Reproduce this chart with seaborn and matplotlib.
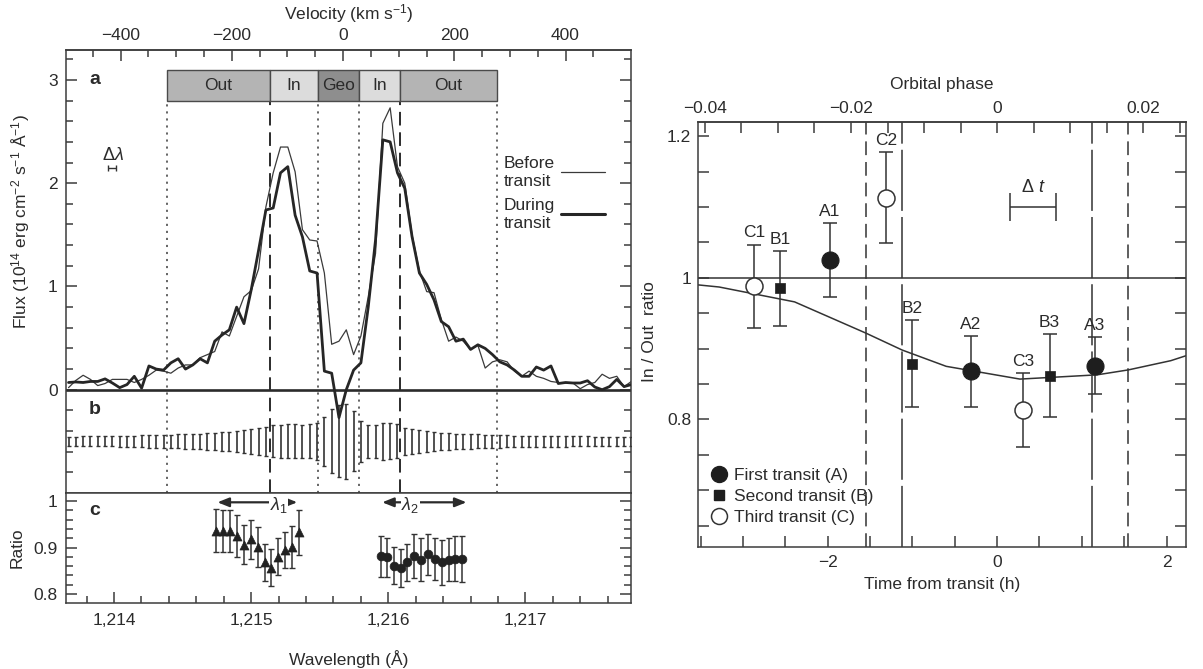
import numpy as np
import pandas as pd
import matplotlib
matplotlib.use("Agg")
import matplotlib.pyplot as plt
import seaborn as sns
from matplotlib.ticker import FixedLocator, MultipleLocator, FuncFormatter
from matplotlib.lines import Line2D

# ---------------- data: left panel (a, b) ----------------
wl_start = 1213.668          # first spectral bin (Angstrom)
wl_step = 0.0533             # bin width (Angstrom)

flux_before = [0.02, 0.09, 0.14, 0.10, 0.04, 0.06, 0.10, 0.10, 0.10, 0.07,
               0.10, 0.14, 0.19, 0.18, 0.16, 0.21, 0.24, 0.24, 0.31, 0.34,
               0.37, 0.56, 0.52, 0.71, 0.90, 0.96, 1.17, 1.77, 2.10, 2.35,
               2.35, 2.11, 1.55, 1.45, 1.44, 1.13, 0.44, 0.47, 0.58, 0.34,
               0.52, 0.90, 1.32, 2.58, 2.73, 2.16, 2.00, 1.50, 1.15, 0.95,
               0.94, 0.68, 0.47, 0.51, 0.47, 0.39, 0.43, 0.21, 0.27, 0.29,
               0.27, 0.18, 0.13, 0.18, 0.13, 0.11, 0.08, 0.07, 0.065, 0.065,
               0.01, 0.05, 0.07, 0.15, 0.11, 0.13, 0.03, 0.08]

flux_during = [0.07, 0.075, 0.07, 0.08, 0.08, 0.105, 0.065, 0.02, 0.05, 0.13,
               0.015, 0.23, 0.20, 0.19, 0.26, 0.30, 0.20, 0.24, 0.30, 0.26,
               0.47, 0.53, 0.58, 0.80, 0.64, 0.97, 1.35, 1.74, 1.76, 2.10,
               2.16, 1.69, 1.48, 1.15, 1.13, 0.18, 0.16, -0.27, 0.0, 0.19,
               0.26, 0.80, 1.45, 2.42, 2.40, 2.10, 1.95, 1.48, 1.13, 1.02,
               0.87, 0.66, 0.61, 0.47, 0.49, 0.39, 0.435, 0.40, 0.34, 0.27,
               0.24, 0.19, 0.13, 0.13, 0.22, 0.19, 0.23, 0.06, 0.07, 0.065,
               0.065, 0.087, 0.026, 0.0, 0.03, 0.10, 0.03, 0.05]

flux_err = [0.045, 0.046, 0.047, 0.047, 0.048, 0.048, 0.049, 0.05, 0.052, 0.055,
            0.058, 0.06, 0.062, 0.064, 0.066, 0.068, 0.07, 0.073, 0.076, 0.08,
            0.085, 0.09, 0.095, 0.10, 0.11, 0.12, 0.13, 0.14, 0.155, 0.16,
            0.165, 0.165, 0.16, 0.165, 0.18, 0.235, 0.31, 0.35, 0.36, 0.29,
            0.20, 0.16, 0.16, 0.177, 0.175, 0.165, 0.13, 0.12, 0.108, 0.10,
            0.092, 0.085, 0.08, 0.075, 0.072, 0.07, 0.067, 0.065, 0.063, 0.06,
            0.058, 0.056, 0.055, 0.054, 0.053, 0.052, 0.051, 0.05, 0.05, 0.049,
            0.048, 0.047, 0.046, 0.045, 0.045, 0.044, 0.044, 0.043]

region_edges = [1214.384, 1215.134, 1215.486, 1215.789, 1216.086, 1216.791]
region_names = ["Out", "In", "Geo", "In", "Out"]
edge_kind = ["dotted", "dashed", "dotted", "dotted", "dashed", "dotted"]

velocity_ticks = [-400, -200, 0, 200, 400]
wavelength_ticks = [1214, 1215, 1216, 1217]

# ---------------- data: panel c ----------------
lam1 = [1214.746, 1214.797, 1214.848, 1214.898, 1214.947, 1214.997, 1215.048,
        1215.099, 1215.147, 1215.198, 1215.246, 1215.297, 1215.348]
ratio1 = [0.936, 0.936, 0.936, 0.924, 0.906, 0.918, 0.902, 0.868, 0.857,
          0.880, 0.895, 0.902, 0.933]
err1 = [0.046, 0.045, 0.045, 0.045, 0.042, 0.042, 0.043, 0.040, 0.039,
        0.040, 0.039, 0.045, 0.048]
lam2 = [1215.944, 1215.992, 1216.040, 1216.091, 1216.139, 1216.190, 1216.238,
        1216.289, 1216.340, 1216.388, 1216.439, 1216.489, 1216.540]
ratio2 = [0.881, 0.879, 0.861, 0.856, 0.868, 0.882, 0.874, 0.886, 0.876,
          0.868, 0.874, 0.876, 0.876]
err2 = [0.044, 0.042, 0.040, 0.040, 0.040, 0.047, 0.046, 0.044, 0.045,
        0.048, 0.046, 0.048, 0.049]
lam1_range = [1214.754, 1215.336]
lam2_range = [1215.955, 1216.570]

# ---------------- data: right panel ----------------
pt_labels = ["C1", "B1", "A1", "C2", "B2", "A2", "C3", "B3", "A3"]
pt_group = ["C", "B", "A", "C", "B", "A", "C", "B", "A"]
pt_time = [-2.87, -2.56, -1.975, -1.31, -1.00, -0.31, 0.31, 0.62, 1.15]
pt_ratio = [0.988, 0.985, 1.025, 1.113, 0.879, 0.868, 0.813, 0.862, 0.876]
pt_err = [0.059, 0.053, 0.052, 0.064, 0.061, 0.050, 0.052, 0.058, 0.040]

model_time = [-3.53, -3.28, -2.39, -1.55, -1.12, -0.60, 0.27, 1.18, 1.55, 2.05, 2.23]
model_ratio = [0.990, 0.987, 0.966, 0.922, 0.898, 0.875, 0.857, 0.863, 0.870, 0.883, 0.890]

contact_outer = [-1.55, 1.55]
contact_inner = [-1.12, 1.12]
dt_range = [0.15, 0.70]
dt_level = 1.10

time_ticks = [-2, 0, 2]
phase_ticks = [-0.04, -0.02, 0, 0.02]

group_names = {"A": "First transit (A)", "B": "Second transit (B)", "C": "Third transit (C)"}

LYA = 1215.67
C_KMS = 299792.458
PERIOD_H = 86.2

# ---------------- style ----------------
sns.set_theme(style="ticks")
INK = "#2b2b2b"
plt.rcParams.update({
    "font.size": 12.5,
    "text.color": INK,
    "axes.labelcolor": INK,
    "axes.edgecolor": "#3c3c3c",
    "axes.linewidth": 1.1,
    "xtick.color": "#3c3c3c",
    "ytick.color": "#3c3c3c",
    "xtick.labelcolor": INK,
    "ytick.labelcolor": INK,
    "xtick.labelsize": 12.5,
    "ytick.labelsize": 12.5,
    "axes.labelsize": 12.5,
    "mathtext.fontset": "custom",
    "mathtext.rm": "Liberation Sans",
    "mathtext.it": "Liberation Sans:italic",
    "mathtext.bf": "Liberation Sans:bold",
    "mathtext.default": "regular",
})
plt.rcParams["font.family"] = ["Liberation Sans", "DejaVu Sans"]

fig = plt.figure(figsize=(12.03, 6.69), dpi=100)
ax = fig.add_axes([0.0549, 0.2631, 0.4697, 0.6622])
axc = fig.add_axes([0.0549, 0.0987, 0.4697, 0.1644])
axr = fig.add_axes([0.5802, 0.1824, 0.4057, 0.6353])


def tick_style(a, **kw):
    a.tick_params(which="both", direction="in", width=1.1, **kw)
    a.tick_params(which="major", length=8, pad=6)
    a.tick_params(which="minor", length=5)


minus = lambda s: s.replace("-", "\u2212")

# ================= panel a + b =================
wavelength = np.round(wl_start + wl_step * np.arange(len(flux_before)), 4)
spec = pd.DataFrame({"wavelength": wavelength, "before": flux_before,
                     "during": flux_during, "err": flux_err})

b_center = -0.5
box_bottom, box_top = 2.8, 3.1
ax.set_xlim(1213.65, 1217.77)
ax.set_ylim(-1.0, 3.29)

# region box
widths = np.diff(region_edges)
box_colors = {"Out": "#b4b4b4", "In": "#dcdcdc", "Geo": "#8e8e8e"}
ax.bar(region_edges[:-1], box_top - box_bottom, width=widths, bottom=box_bottom,
       align="edge", color=[box_colors[n] for n in region_names],
       edgecolor="#4a4a4a", linewidth=1.0, zorder=3)
for x0, w, name in zip(region_edges[:-1], widths, region_names):
    ax.text(x0 + w / 2, (box_bottom + box_top) / 2, name, ha="center",
            va="center", fontsize=12.5, zorder=4)

# region boundary lines
for x, kind in zip(region_edges, edge_kind):
    if kind == "dashed":
        ax.vlines(x, -1.0, box_bottom, colors="#2b2b2b", lw=1.4,
                  linestyles=[(0, (7, 3.5))], zorder=1)
    else:
        ax.vlines(x, -1.0, box_bottom, colors="#3a3a3a", lw=1.1,
                  linestyles=[(0, (1.4, 3.2))], zorder=1)

# panel b error bars
ax.errorbar(spec["wavelength"], np.full(len(spec), b_center), yerr=spec["err"],
            fmt="none", ecolor="#333333", elinewidth=1.2, capsize=1.4,
            capthick=1.0, zorder=2)

ax.axhline(0, color="#2b2b2b", lw=1.9, zorder=2)

sns.lineplot(data=spec, x="wavelength", y="before", ax=ax, color="#3a3a3a",
             lw=0.9, zorder=5)
sns.lineplot(data=spec, x="wavelength", y="during", ax=ax, color="#262626",
             lw=2.0, zorder=6)

ax.text(1213.86, 3.0, "a", fontsize=14, fontweight="bold", va="center", ha="center")
ax.text(1213.86, -0.19, "b", fontsize=14, fontweight="bold", va="center", ha="center")
ax.text(1213.99, 2.27, r"$\Delta\mathit{\lambda}$", fontsize=13, ha="center", va="center")
ax.errorbar([1213.985], [2.15], xerr=[wl_step / 2], fmt="none", ecolor="#333333",
            elinewidth=1.0, capsize=2.5, capthick=1.0)

ax.legend(handles=[Line2D([], [], color="#3a3a3a", lw=0.9),
                   Line2D([], [], color="#262626", lw=2.2)],
          labels=["Before\ntransit", "During\ntransit"],
          markerfirst=False, frameon=False, loc="upper left",
          bbox_to_anchor=(0.775, 0.76), borderaxespad=0, borderpad=0,
          handlelength=2.5, handletextpad=0.35, labelspacing=0.55,
          fontsize=12.5)

ax.set_xlabel("")
ax.set_ylabel("Flux (10$^{14}$ erg cm$^{-2}$ s$^{-1}$ Å$^{-1}$)")
ax.yaxis.set_label_coords(-0.060, 0.613)
ax.yaxis.set_major_locator(FixedLocator([0, 1, 2, 3]))
ax.yaxis.set_minor_locator(FixedLocator(np.round(np.arange(-0.8, 3.25, 0.2), 2)))
ax.yaxis.set_major_formatter(FuncFormatter(lambda v, p: f"{v:g}"))
tick_style(ax, left=True, right=True, bottom=False, top=False,
           labelbottom=False)

w2v = lambda w: (w - LYA) / LYA * C_KMS
v2w = lambda v: LYA + v / C_KMS * LYA
sec = ax.secondary_xaxis("top", functions=(w2v, v2w))
sec.xaxis.set_major_locator(FixedLocator(velocity_ticks))
sec.xaxis.set_minor_locator(FixedLocator(list(range(-450, 451, 50))))
sec.xaxis.set_major_formatter(FuncFormatter(lambda v, p: minus(f"{v:g}")))
sec.tick_params(which="both", direction="in", width=1.1)
sec.tick_params(which="major", length=8, pad=5)
sec.tick_params(which="minor", length=5)
sec.set_xlabel("Velocity (km s$^{-1}$)", labelpad=6)

# ================= panel c =================
axc.set_xlim(1213.65, 1217.77)
axc.set_ylim(0.781, 1.017)
axc.errorbar(lam1, ratio1, yerr=err1, fmt="none", ecolor="#333333",
             elinewidth=1.1, capsize=2.2, capthick=1.0, zorder=2)
axc.errorbar(lam2, ratio2, yerr=err2, fmt="none", ecolor="#333333",
             elinewidth=1.1, capsize=2.2, capthick=1.0, zorder=2)
sns.scatterplot(x=lam1, y=ratio1, ax=axc, marker="^", s=42, color="#222222",
                edgecolor="#222222", linewidth=0.5, zorder=3)
sns.scatterplot(x=lam2, y=ratio2, ax=axc, marker="o", s=40, color="#222222",
                edgecolor="#222222", linewidth=0.5, zorder=3)

arrow_y = 0.997
for rng, lab, lx in [(lam1_range, r"$\mathit{\lambda}_1$", 1215.20),
                     (lam2_range, r"$\mathit{\lambda}_2$", 1216.16)]:
    axc.annotate("", xy=(rng[0], arrow_y), xytext=(rng[1], arrow_y),
                 arrowprops=dict(arrowstyle="<|-|>,head_length=0.55,head_width=0.22",
                                 color="#2b2b2b", lw=1.6, shrinkA=0, shrinkB=0))
    axc.text(lx, arrow_y - 0.006, lab, ha="center", va="center", fontsize=13,
             bbox=dict(facecolor="white", edgecolor="none", pad=0.5))

axc.text(1213.86, 0.98, "c", fontsize=14, fontweight="bold", va="center", ha="center")
axc.set_ylabel("Ratio")
axc.yaxis.set_label_coords(-0.074, 0.5)
axc.set_xlabel("Wavelength (Å)", labelpad=16)
axc.yaxis.set_major_locator(FixedLocator([0.8, 0.9, 1.0]))
axc.yaxis.set_minor_locator(MultipleLocator(0.02))
axc.yaxis.set_major_formatter(FuncFormatter(lambda v, p: f"{v:g}"))
axc.xaxis.set_major_locator(FixedLocator(wavelength_ticks))
axc.xaxis.set_minor_locator(MultipleLocator(0.2))
axc.xaxis.set_major_formatter(FuncFormatter(lambda v, p: f"{v:,.0f}"))
tick_style(axc, left=True, right=True, bottom=True, top=False)
axc.tick_params(axis="x", which="major", pad=7)

# ================= right panel =================
axr.set_xlim(-3.53, 2.23)
axr.set_ylim(0.62, 1.22)
axr.axhline(1.0, color="#333333", lw=1.1, zorder=1)
for t in contact_outer:
    axr.axvline(t, color="#333333", lw=1.1, ls=(0, (9, 4.5)), zorder=1)
for t in contact_inner:
    axr.axvline(t, color="#333333", lw=1.1, ls=(0, (40, 4)), zorder=1)

sns.lineplot(x=model_time, y=model_ratio, ax=axr, color="#333333", lw=1.1,
             zorder=2)

axr.errorbar(pt_time, pt_ratio, yerr=pt_err, fmt="none", ecolor="#333333",
             elinewidth=1.1, capsize=5, capthick=1.1, zorder=3)

pts = pd.DataFrame({"time": pt_time, "ratio": pt_ratio, "err": pt_err,
                    "group": pt_group, "label": pt_labels})
marker_style = {
    "A": dict(marker="o", s=150, color="#1e1e1e", edgecolor="#1e1e1e", linewidth=0.8),
    "B": dict(marker="s", s=48, color="#1e1e1e", edgecolor="#1e1e1e", linewidth=0.5),
    "C": dict(marker="o", s=150, color="white", edgecolor="#333333", linewidth=1.1),
}
for g in ["A", "B", "C"]:
    sub = pts[pts["group"] == g]
    sns.scatterplot(data=sub, x="time", y="ratio", ax=axr, zorder=4,
                    **marker_style[g])

for _, r in pts.iterrows():
    axr.text(r["time"], r["ratio"] + r["err"] + 0.006, r["label"],
             ha="center", va="bottom", fontsize=12.5)

dt_mid = (dt_range[0] + dt_range[1]) / 2
axr.errorbar([dt_mid], [dt_level], xerr=[(dt_range[1] - dt_range[0]) / 2],
             fmt="none", ecolor="#333333", elinewidth=1.1, capsize=10,
             capthick=1.1)
axr.text(dt_mid, dt_level + 0.015, r"$\Delta\ \mathit{t}$", ha="center",
         va="bottom", fontsize=13)

leg_handles = [
    Line2D([], [], ls="none", marker="o", ms=11.5, mfc="#1e1e1e", mec="#1e1e1e"),
    Line2D([], [], ls="none", marker="s", ms=6.5, mfc="#1e1e1e", mec="#1e1e1e"),
    Line2D([], [], ls="none", marker="o", ms=11.5, mfc="white", mec="#333333", mew=1.1),
]
axr.legend(handles=leg_handles, labels=[group_names[g] for g in ["A", "B", "C"]],
           loc="lower left", bbox_to_anchor=(0.025, 0.052), frameon=False,
           borderaxespad=0, borderpad=0, handlelength=1.0, handletextpad=0.35,
           labelspacing=0.32, fontsize=12.5)

axr.set_xlabel("Time from transit (h)", labelpad=5)
axr.set_ylabel("In / Out  ratio")
axr.yaxis.set_label_coords(-0.084, 0.506)
axr.xaxis.set_major_locator(FixedLocator(time_ticks))
axr.xaxis.set_minor_locator(MultipleLocator(0.5))
axr.xaxis.set_major_formatter(FuncFormatter(lambda v, p: minus(f"{v:g}")))
axr.yaxis.set_major_locator(FixedLocator([0.8, 1.0, 1.2]))
axr.yaxis.set_minor_locator(MultipleLocator(0.05))
axr.yaxis.set_major_formatter(FuncFormatter(lambda v, p: f"{v:g}"))
tick_style(axr, left=True, right=True, bottom=True, top=False)
axr.tick_params(which="both", length=8)
axr.tick_params(axis="y", which="major", pad=5)

t2p = lambda t: t / PERIOD_H
p2t = lambda p: p * PERIOD_H
secr = axr.secondary_xaxis("top", functions=(t2p, p2t))
secr.xaxis.set_major_locator(FixedLocator(phase_ticks))
secr.xaxis.set_minor_locator(FixedLocator(list(np.round(np.arange(-0.04, 0.0251, 0.005), 3))))
secr.xaxis.set_major_formatter(FuncFormatter(lambda v, p: minus(f"{round(v, 3):g}")))
secr.tick_params(which="both", direction="in", width=1.1, length=8)
secr.tick_params(which="major", pad=4)
secr.set_xlabel("Orbital phase", labelpad=9)

fig.savefig("out.png", dpi=100)
